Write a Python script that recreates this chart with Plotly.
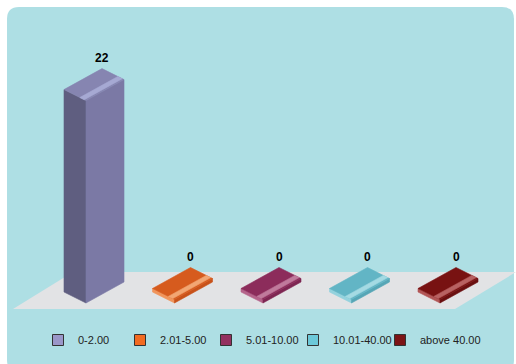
import plotly.graph_objects as go

# ---- data ----
categories = ["0-2.00", "2.01-5.00", "5.01-10.00", "10.01-40.00", "above 40.00"]
values = [22, 0, 0, 0, 0]
legend_colors = ["#9B97C9", "#F26B21", "#93305F", "#6CC8D8", "#7C1416"]
top_colors = ["#8685B1", "#D65B1E", "#8C2C5B", "#62B5C5", "#781212"]
left_colors = ["#5F5E80", "#F0955C", "#B5648B", "#93D2DD", "#B25656"]
right_colors = ["#7B79A5", "#C8521A", "#7E2652", "#56A6B6", "#6A0F10"]
hi_colors = ["#A6A9D3", "#F2A673", "#C07A9C", "#A4DAE3", "#B86262"]
legend_x_px = [38, 120, 206, 293, 380]

# ---- geometry (pixel scale -> data scale) ----
W, H = 516, 364
SLOT_PX = 88.5     # px per category slot
VAL_PX = 9.2       # px per value unit
X0, Y0 = 64, 292   # pixel position of slot 0 / value 0
DEP = (22 / SLOT_PX, -11 / VAL_PX)    # depth direction
WID = (38 / SLOT_PX, 21 / VAL_PX)     # width direction
MIN_H = 3.5 / VAL_PX

xrange_ = [(0 - X0) / SLOT_PX, (W - X0) / SLOT_PX]
yrange_ = [(Y0 - H) / VAL_PX, Y0 / VAL_PX]

fig = go.Figure()


def poly(pts, color):
    xs = [p[0] for p in pts] + [pts[0][0]]
    ys = [p[1] for p in pts] + [pts[0][1]]
    fig.add_trace(go.Scatter(x=xs, y=ys, mode="lines", fill="toself",
                             fillcolor=color, line=dict(width=0.6, color=color),
                             hoverinfo="skip", showlegend=False))


def add(p, v, k=1.0):
    return (p[0] + v[0] * k, p[1] + v[1] * k)


for i, (cat, v) in enumerate(zip(categories, values)):
    h = max(v, MIN_H)
    L0 = (i, 0.0)
    F0 = add(L0, DEP)
    R0 = add(F0, WID)
    B0 = add(L0, WID)
    up = (0, h)
    Lt, Ft, Rt, Bt = add(L0, up), add(F0, up), add(R0, up), add(B0, up)
    poly([L0, F0, Ft, Lt], left_colors[i])
    poly([F0, R0, Rt, Ft], right_colors[i])
    poly([Lt, Ft, Rt, Bt], top_colors[i])
    # bevel highlight along the front edge of the top face
    poly([add(Ft, DEP, -0.08), add(Rt, DEP, -0.08), add(Rt, DEP, -0.28), add(Ft, DEP, -0.28)], hi_colors[i])
    fig.add_annotation(x=Bt[0], y=Bt[1], text="<b>%d</b>" % v, showarrow=False,
                       yshift=11, font=dict(family="Liberation Sans, Arial", size=12, color="#000"))

# legend entries, one legend box per category
legend_layout = {}
for k, (cat, c) in enumerate(zip(categories, legend_colors)):
    lname = "legend" if k == 0 else "legend%d" % (k + 1)
    fig.add_trace(go.Scatter(x=[None], y=[None], mode="markers", name=cat, legend=lname,
                             marker=dict(symbol="square", size=11, color=c,
                                         line=dict(width=1, color="#333"))))
    legend_layout[lname] = dict(orientation="h", x=legend_x_px[k] / W, xanchor="left",
                                y=1 - 340 / H, yanchor="middle", bgcolor="rgba(0,0,0,0)",
                                font=dict(family="Liberation Sans, Arial", size=11, color="#222"),
                                itemwidth=30)


def px(x, y):
    return "%.4f,%.4f" % (x / W, 1 - y / H)


r = 12
x1, y1, x2, y2 = 7, 7, 514, 372
bg_path = ("M %s L %s Q %s %s L %s Q %s %s L %s Q %s %s L %s Q %s %s Z" % (
    px(x1 + r, y1), px(x2 - r, y1), px(x2, y1), px(x2, y1 + r),
    px(x2, y2 - r), px(x2, y2), px(x2 - r, y2),
    px(x1 + r, y2), px(x1, y2), px(x1, y2 - r),
    px(x1, y1 + r), px(x1, y1), px(x1 + r, y1)))

floor_path = "M %s L %s L %s L %s Z" % (px(13, 309), px(73, 272), px(516, 272), px(455, 309))

fig.update_layout(
    width=W, height=H,
    margin=dict(l=0, r=0, t=0, b=0),
    paper_bgcolor="white", plot_bgcolor="rgba(0,0,0,0)",
    xaxis=dict(range=xrange_, visible=False, fixedrange=True),
    yaxis=dict(range=yrange_, visible=False, fixedrange=True),
    shapes=[
        dict(type="path", path=bg_path, xref="paper", yref="paper",
             fillcolor="#AEDFE4", line=dict(width=0), layer="below"),
        dict(type="path", path=floor_path, xref="paper", yref="paper",
             fillcolor="#E2E3E5", line=dict(width=0), layer="below"),
    ],
    showlegend=True,
    **legend_layout,
)

fig.write_html("out.html")
